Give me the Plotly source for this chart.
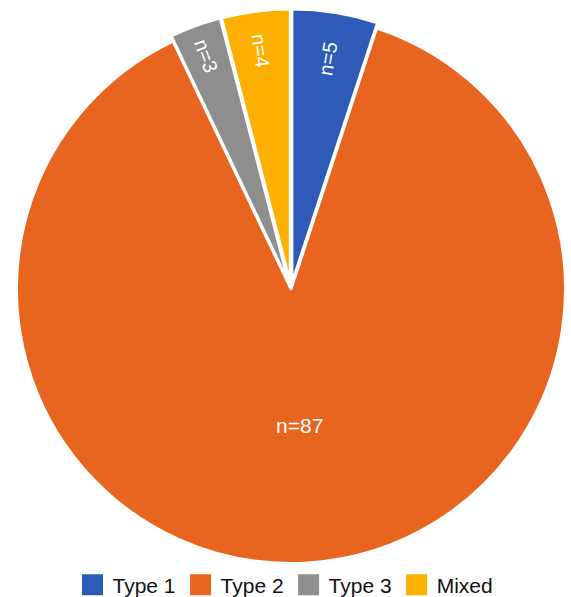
import plotly.graph_objects as go

labels = ["Type 1", "Type 2", "Type 3", "Mixed"]
values = [5, 87, 3, 4]
colors = ["#2E5BB8", "#E8651F", "#8E8E8E", "#FDB000"]
pulls = [0.02, 0.0, 0.02, 0.02]
radial_text = ["n=%{value}", "", "n=%{value}", "n=%{value}"]
flat_text = ["", "n=%{value}", "", ""]

FONT = "Liberation Sans, Arial, Helvetica, sans-serif"
DOM = dict(x=[0.0193, 1.0], y=[0.047, 0.985])

fig = go.Figure()
fig.add_trace(go.Pie(
    labels=labels, values=values, sort=False, direction="clockwise", rotation=0,
    pull=pulls,
    marker=dict(colors=colors, line=dict(color="white", width=3)),
    texttemplate=radial_text, textposition="inside",
    insidetextorientation="radial",
    textfont=dict(color="white", size=20, family=FONT),
    hoverinfo="label+value", showlegend=False, domain=DOM,
))
fig.add_trace(go.Pie(
    labels=labels, values=values, sort=False, direction="clockwise", rotation=0,
    pull=pulls,
    marker=dict(colors=["rgba(0,0,0,0)"] * 4, line=dict(width=0)),
    texttemplate=flat_text, textposition="inside",
    insidetextorientation="horizontal",
    textfont=dict(color="white", size=21, family=FONT),
    hoverinfo="skip", showlegend=False, domain=DOM,
))

# legend entries with larger square swatches
for lab, col in zip(labels, colors):
    fig.add_trace(go.Scatter(
        x=[None], y=[None], mode="markers", name=lab,
        marker=dict(symbol="square", size=16, color=col, line=dict(color=col, width=5)),
        showlegend=True, hoverinfo="skip",
    ))

fig.update_layout(
    width=571,
    height=597,
    margin=dict(l=0, r=0, t=0, b=0, autoexpand=False),
    paper_bgcolor="white",
    plot_bgcolor="rgba(0,0,0,0)",
    xaxis=dict(visible=False),
    yaxis=dict(visible=False),
    showlegend=True,
    legend=dict(orientation="h", x=0.5, xanchor="center", y=0.020, yanchor="middle",
                font=dict(size=21, color="#111111", family=FONT),
                itemwidth=30, traceorder="normal", bgcolor="rgba(0,0,0,0)"),
)

fig.write_html("out.html")
